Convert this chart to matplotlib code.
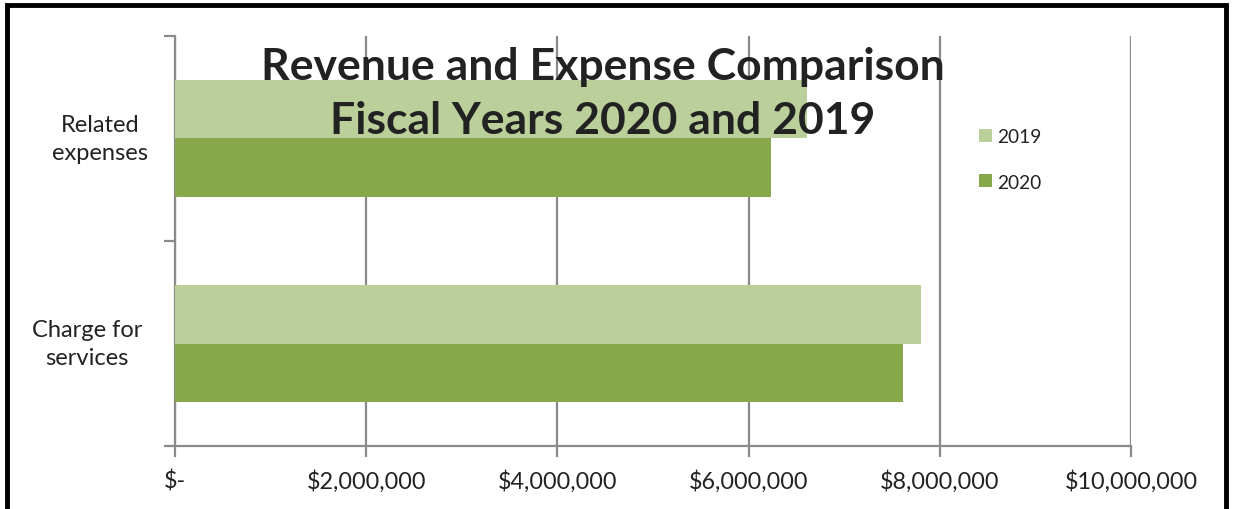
import matplotlib.pyplot as plt
from matplotlib.patches import Rectangle
from matplotlib.ticker import FuncFormatter

plt.rcParams['font.family'] = ['Lato', 'DejaVu Sans']

categories = ["Charge for\nservices", "Related\nexpenses"]
years = ["2019", "2020"]
values_2019 = [7800000, 6610000]
values_2020 = [7620000, 6230000]
colors = {"2019": "#BACF99", "2020": "#88A84C"}

fig = plt.figure(figsize=(12.33, 5.10), dpi=100)
ax = fig.add_axes([0.1419, 0.1235, 0.7754, 0.8040])

bar_h = 0.283
pos = list(range(len(categories)))
ax.barh([p + bar_h / 2 for p in pos], values_2019, height=bar_h,
        color=colors["2019"], label="2019", zorder=3)
ax.barh([p - bar_h / 2 for p in pos], values_2020, height=bar_h,
        color=colors["2020"], label="2020", zorder=3)

ax.set_xlim(0, 10000000)
ax.set_ylim(-0.5, len(categories) - 0.5)
ax.set_xticks(range(0, 10000001, 2000000))
ax.xaxis.set_major_formatter(FuncFormatter(lambda v, p: "$-" if v == 0 else f"${v:,.0f}"))
ax.set_yticks([-0.5, 0.5, 1.5])
ax.set_yticklabels([])

grid_c = "#8A8A8A"
ax.grid(axis="x", color=grid_c, linewidth=1.6, zorder=0)
for s in ["top", "right"]:
    ax.spines[s].set_visible(False)
for s in ["left", "bottom"]:
    ax.spines[s].set_color(grid_c)
    ax.spines[s].set_linewidth(1.6)
ax.tick_params(axis="both", color=grid_c, width=1.6, length=8)
ax.tick_params(axis="x", labelsize=16.8, pad=9, labelcolor="#222222")

label_x = [-0.092, -0.078]
for p, cat, lx in zip(pos, categories, label_x):
    ax.text(lx, p, cat, transform=ax.get_yaxis_transform(), ha="center",
            va="center", fontsize=17, color="#222222", linespacing=1.45)

fig.text(0.489, 0.815, "Revenue and Expense Comparison\nFiscal Years 2020 and 2019",
         ha="center", va="center", fontsize=32, fontweight="bold",
         color="#222222", linespacing=1.42, zorder=5)

leg = ax.legend(loc="upper left", bbox_to_anchor=(0.823, 0.818), frameon=False,
                fontsize=13.8, handlelength=0.65, handleheight=0.65,
                handletextpad=0.3, labelspacing=1.5)
for t in leg.get_texts():
    t.set_color("#222222")

fig.patches.append(Rectangle((0.006, -0.05), 0.988, 1.038, transform=fig.transFigure,
                             fill=False, edgecolor="black", linewidth=3.5))

fig.savefig("out.png")
